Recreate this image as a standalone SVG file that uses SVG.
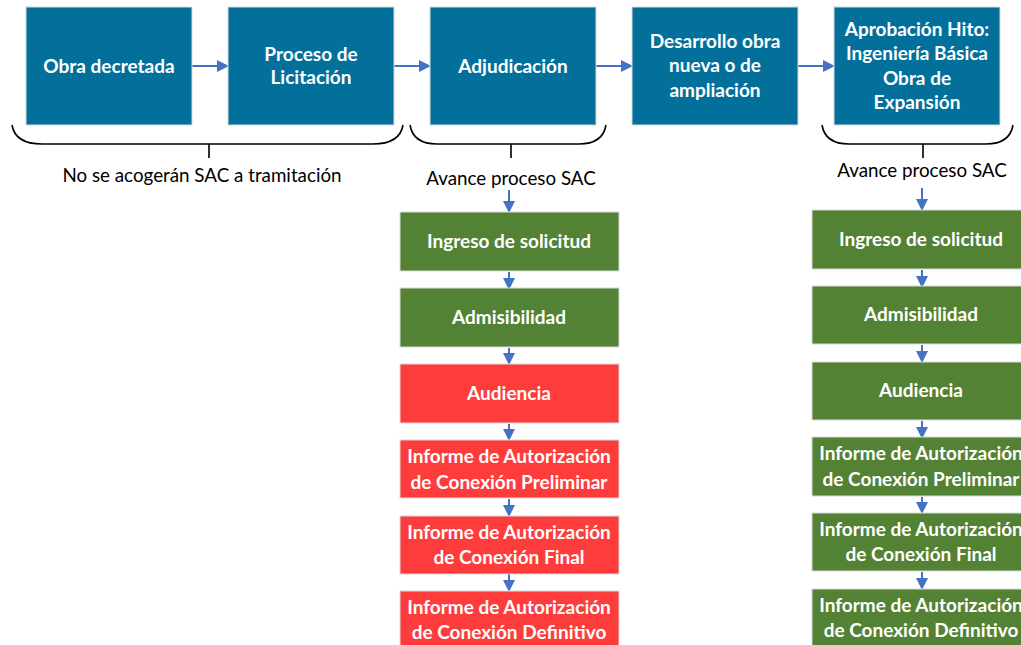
<svg xmlns="http://www.w3.org/2000/svg" width="1021" height="645" viewBox="0 0 1021 645">
<defs>
<style>
.b{fill:#03709c;stroke:#d9d9d9;stroke-width:1}
.g{fill:#548235;stroke:#d9d9d9;stroke-width:1}
.r{fill:#ff3c3c;stroke:#d9d9d9;stroke-width:1}
.t{font-family:Lato,"Open Sans",sans-serif;font-weight:bold;font-size:19px;fill:#ffffff;text-anchor:middle}
.l{font-family:Lato,"Open Sans",sans-serif;font-size:18.8px;fill:#000000;text-anchor:middle}
.c{stroke:#4472c4;stroke-width:2;fill:none}
.br{stroke:#000000;stroke-width:1.6;fill:none}
</style>
<marker id="ah" markerWidth="6" markerHeight="6" refX="5" refY="3" orient="auto" markerUnits="strokeWidth">
<path d="M0,0 L6,3 L0,6 Z" fill="#4472c4"/>
</marker>
</defs>
<rect width="1021" height="645" fill="#ffffff"/>

<g id="connectors">
<line class="c" x1="192" y1="66" x2="227" y2="66" marker-end="url(#ah)"/>
<line class="c" x1="394" y1="66" x2="429" y2="66" marker-end="url(#ah)"/>
<line class="c" x1="596" y1="66" x2="631" y2="66" marker-end="url(#ah)"/>
<line class="c" x1="798" y1="66" x2="833" y2="66" marker-end="url(#ah)"/>
<line class="c" x1="509" y1="190" x2="509" y2="211" marker-end="url(#ah)"/>
<line class="c" x1="509" y1="272" x2="509" y2="288" marker-end="url(#ah)"/>
<line class="c" x1="509" y1="348" x2="509" y2="363" marker-end="url(#ah)"/>
<line class="c" x1="509" y1="424" x2="509" y2="439" marker-end="url(#ah)"/>
<line class="c" x1="509" y1="499" x2="509" y2="515" marker-end="url(#ah)"/>
<line class="c" x1="509" y1="574" x2="509" y2="590" marker-end="url(#ah)"/>
<line class="c" x1="922" y1="188" x2="922" y2="209" marker-end="url(#ah)"/>
<line class="c" x1="922" y1="270" x2="922" y2="286" marker-end="url(#ah)"/>
<line class="c" x1="922" y1="345" x2="922" y2="361" marker-end="url(#ah)"/>
<line class="c" x1="922" y1="421" x2="922" y2="437" marker-end="url(#ah)"/>
<line class="c" x1="922" y1="497" x2="922" y2="512" marker-end="url(#ah)"/>
<line class="c" x1="922" y1="572" x2="922" y2="588" marker-end="url(#ah)"/>
</g>

<g id="braces">
<path class="br" d="M12,125 C14,137 24,144 42,144 L373,144 C391,144 401,137 403,125 M209,144 L209,158"/>
<path class="br" d="M410,125 C412,137 421,144 437,144 L579,144 C595,144 604,137 606,125 M511,144 L511,158"/>
<path class="br" d="M822,125 C824,137 833,144 849,144 L986,144 C1002,144 1011,137 1013,125 M923,144 L923,158"/>
</g>

<g id="label-no-sac"><text class="l" x="202" y="182">No se acogerán SAC a tramitación</text></g>
<g id="label-avance-1"><text class="l" x="511" y="185">Avance proceso SAC</text></g>
<g id="label-avance-2"><text class="l" x="922" y="177">Avance proceso SAC</text></g>

<g id="obra-decretada"><rect class="b" x="26" y="7" width="166" height="118"/><text class="t" x="109" y="73">Obra decretada</text></g>
<g id="proceso-licitacion"><rect class="b" x="228" y="7" width="166" height="118"/><text class="t" x="311" y="61">Proceso de</text><text class="t" x="311" y="84">Licitación</text></g>
<g id="adjudicacion"><rect class="b" x="430" y="7" width="166" height="118"/><text class="t" x="513" y="73">Adjudicación</text></g>
<g id="desarrollo-obra"><rect class="b" x="632" y="7" width="166" height="118"/><text class="t" x="715" y="48">Desarrollo obra</text><text class="t" x="715" y="72">nueva o de</text><text class="t" x="715" y="97">ampliación</text></g>
<g id="aprobacion-hito"><rect class="b" x="834" y="7" width="166" height="118"/><text class="t" x="917" y="36">Aprobación Hito:</text><text class="t" x="917" y="60">Ingeniería Básica</text><text class="t" x="917" y="85">Obra de</text><text class="t" x="917" y="109">Expansión</text></g>

<g id="l-ingreso"><rect class="g" x="400" y="212" width="219" height="59"/><text class="t" x="509" y="248">Ingreso de solicitud</text></g>
<g id="l-admisibilidad"><rect class="g" x="400" y="288" width="219" height="59"/><text class="t" x="509" y="324">Admisibilidad</text></g>
<g id="l-audiencia"><rect class="r" x="400" y="364" width="219" height="59"/><text class="t" x="509" y="400">Audiencia</text></g>
<g id="l-preliminar"><rect class="r" x="400" y="440" width="219" height="58"/><text class="t" x="509" y="463">Informe de Autorización</text><text class="t" x="509" y="489">de Conexión Preliminar</text></g>
<g id="l-final"><rect class="r" x="400" y="516" width="219" height="58"/><text class="t" x="509" y="539">Informe de Autorización</text><text class="t" x="509" y="564">de Conexión Final</text></g>
<g id="l-definitivo"><rect class="r" x="400" y="591" width="219" height="59"/><text class="t" x="509" y="614">Informe de Autorización</text><text class="t" x="509" y="639">de Conexión Definitivo</text></g>

<g id="r-ingreso"><rect class="g" x="812" y="210" width="219" height="59"/><text class="t" x="921" y="246">Ingreso de solicitud</text></g>
<g id="r-admisibilidad"><rect class="g" x="812" y="286" width="219" height="58"/><text class="t" x="921" y="321">Admisibilidad</text></g>
<g id="r-audiencia"><rect class="g" x="812" y="362" width="219" height="58"/><text class="t" x="921" y="397">Audiencia</text></g>
<g id="r-preliminar"><rect class="g" x="812" y="437" width="219" height="59"/><text class="t" x="921" y="460">Informe de Autorización</text><text class="t" x="921" y="486">de Conexión Preliminar</text></g>
<g id="r-final"><rect class="g" x="812" y="513" width="219" height="58"/><text class="t" x="921" y="536">Informe de Autorización</text><text class="t" x="921" y="561">de Conexión Final</text></g>
<g id="r-definitivo"><rect class="g" x="812" y="589" width="219" height="59"/><text class="t" x="921" y="612">Informe de Autorización</text><text class="t" x="921" y="637">de Conexión Definitivo</text></g>
</svg>
